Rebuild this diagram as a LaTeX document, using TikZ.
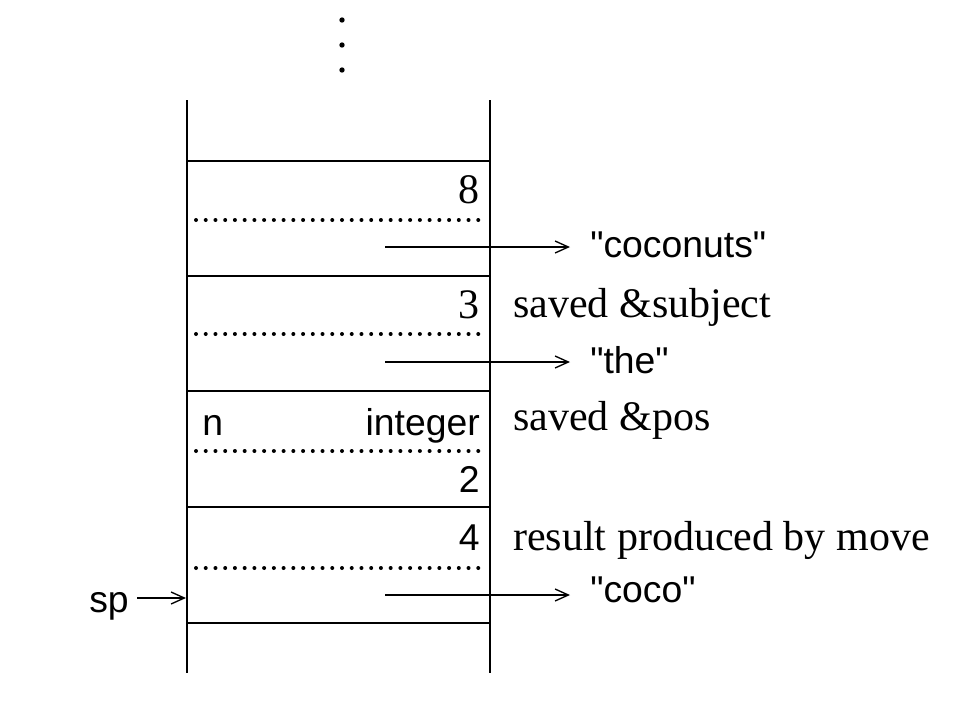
\documentclass[tikz,border=0pt]{standalone}
\usepackage{fontspec}
\setmainfont{Liberation Serif}
\newfontfamily\hv{Liberation Sans}
\usetikzlibrary{arrows.meta}
\begin{document}
\begin{tikzpicture}[x=0.75pt,y=-0.75pt,
  frame/.style={line width=1.3pt},
  dotline/.style={line width=3pt, line cap=round, dash pattern=on 0pt off 7.3pt},
  ptr/.style={line width=1.0pt, -{Straight Barb[length=10pt,width=9pt]}},
  tm/.style={font=\fontsize{31.5}{36}\selectfont, inner sep=0pt},
  hl/.style={font=\hv\fontsize{28}{32}\selectfont, inner sep=0pt},
  tgt/.style={hl, inner xsep=15pt, anchor=base west},
  vdot/.style={circle, fill=black, inner sep=0pt, minimum size=4pt},
]
\useasboundingbox (0,0) rectangle (976,718);
% vertical ellipsis
\node[vdot] (e1) at (342,20) {};
\node[vdot] (e2) at (342,45) {};
\node[vdot] (e3) at (342,70) {};
% frame
\draw[frame] (187,100) -- (187,673);
\draw[frame] (490,100) -- (490,673);
\foreach \y in {161,276,391,507,623} \draw[frame] (187,\y) -- (490,\y);
\foreach \y in {220,334,451,568} \draw[dotline] (196,\y) -- (482,\y);
% cell texts
\node[tm, anchor=base east] (v8) at (480,203) {8};
\node[tm, anchor=base east] (v3) at (480,318) {3};
\node[hl, anchor=base west] (n) at (202,435) {n};
\node[hl, anchor=base east] (int) at (480,435) {integer};
\node[hl, anchor=base east] (v2) at (480,492) {2};
\node[hl, anchor=base east] (v4) at (480,550) {4};
% side texts
\node[tm, anchor=base west] (ss) at (513,317) {saved \&subject};
\node[tm, anchor=base west] (sps) at (513,430) {saved \&pos};
\node[tm, anchor=base west] (res) at (513,550) {result produced by move};
% pointer targets
\node[tgt] (coconuts) at (570,257) {"coconuts"};
\node[tgt] (the) at (570,373) {"the"};
\node[tgt] (coco) at (570,602) {"coco"};
% pointers
\coordinate (a1) at (385,247);
\coordinate (a2) at (385,362);
\coordinate (a3) at (385,595);
\draw[ptr] (a1) -- (a1 -| coconuts.west);
\draw[ptr] (a2) -- (a2 -| the.west);
\draw[ptr] (a3) -- (a3 -| coco.west);
% sp
\node[hl, inner xsep=6pt, inner ysep=0pt, anchor=base east] (sp) at (137,612) {sp};
\coordinate (spt) at (186,598);
\draw[ptr] (sp.east |- spt) -- (spt);
\end{tikzpicture}
\end{document}
